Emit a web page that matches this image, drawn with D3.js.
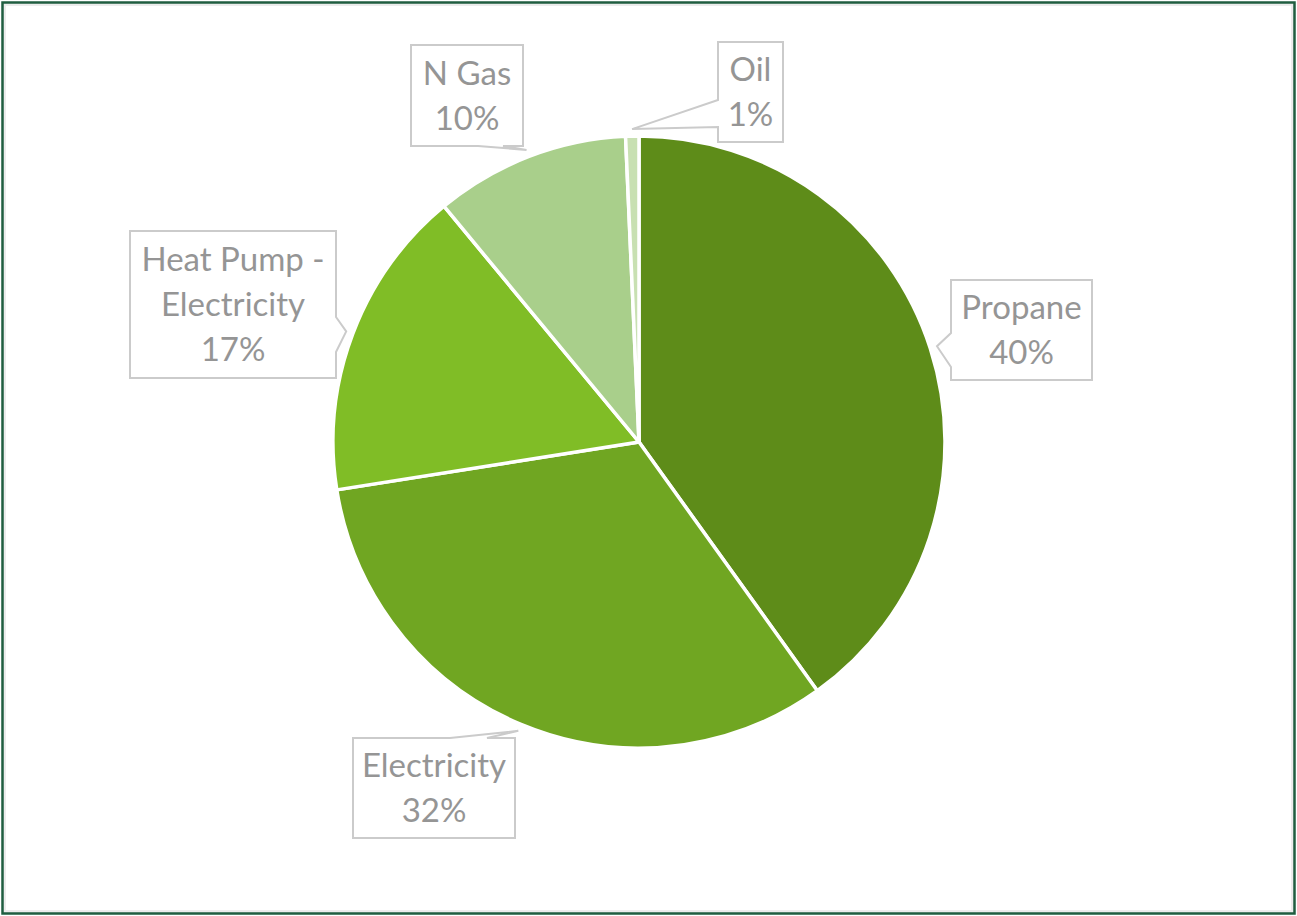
<!DOCTYPE html>
<html>
<head>
<meta charset="utf-8">
<script src="https://cdn.jsdelivr.net/npm/d3@7"></script>
<style>
html,body{margin:0;padding:0;background:#fff;}
svg{display:block;}
</style>
</head>
<body>
<svg id="chart" width="1297" height="916"></svg>
<script>
// ---- data ----
const categories = ["Propane", "Electricity", "Heat Pump - Electricity", "N Gas", "Oil"];
const values = [40.1, 32.4, 16.5, 10.3, 0.7];
const labelLines = [["Propane"], ["Electricity"], ["Heat Pump -", "Electricity"], ["N Gas"], ["Oil"]];
const colors = ["#5e8c19", "#70a622", "#80bd26", "#a9cf8b", "#c8e0b2"];

// ---- label box layout (annotation geometry) ----
const boxes = [
  {x: 951, y: 280, w: 141, h: 100, side: "left", a: 333, b: 367},
  {x: 353, y: 738, w: 162, h: 100, side: "top", a: 450, b: 487},
  {x: 130, y: 231, w: 206, h: 147, side: "right", a: 317, b: 352},
  {x: 411, y: 45, w: 112, h: 101, side: "bottom", a: 478, b: 503},
  {x: 718, y: 42, w: 65, h: 100, side: "left", a: 100, b: 127}
];

const svg = d3.select("#chart");
const W = 1297, H = 916;

// frame
svg.append("rect").attr("x", 4.5).attr("y", 4.5).attr("width", W - 9).attr("height", H - 9)
  .attr("fill", "none").attr("stroke", "#ececec").attr("stroke-width", 3);
svg.append("rect").attr("x", 2.5).attr("y", 2.5).attr("width", W - 5).attr("height", H - 5)
  .attr("fill", "none").attr("stroke", "#1f5d40").attr("stroke-width", 2.5);

const cx = 639, cy = 442, R = 306;
const total = d3.sum(values);
const data = categories.map((c, i) => ({cat: c, value: values[i], i}));

const pie = d3.pie().value(d => d.value).sort(null);
const arcs = pie(data);
const arc = d3.arc().innerRadius(0).outerRadius(R);

const g = svg.append("g").attr("transform", `translate(${cx},${cy})`);
g.selectAll("path.slice").data(arcs).enter().append("path")
  .attr("class", "slice")
  .attr("d", arc)
  .attr("fill", d => colors[d.data.i])
  .attr("stroke", "#fff")
  .attr("stroke-width", 3.5)
  .attr("stroke-linejoin", "round");

// callouts
function calloutPath(b, tip) {
  const x0 = b.x, y0 = b.y, x1 = b.x + b.w, y1 = b.y + b.h;
  const p = d3.path();
  p.moveTo(x0, y0);
  if (b.side === "top") { p.lineTo(b.a, y0); p.lineTo(tip[0], tip[1]); p.lineTo(b.b, y0); }
  p.lineTo(x1, y0);
  if (b.side === "right") { p.lineTo(x1, b.a); p.lineTo(tip[0], tip[1]); p.lineTo(x1, b.b); }
  p.lineTo(x1, y1);
  if (b.side === "bottom") { p.lineTo(b.b, y1); p.lineTo(tip[0], tip[1]); p.lineTo(b.a, y1); }
  p.lineTo(x0, y1);
  if (b.side === "left") { p.lineTo(x0, b.b); p.lineTo(tip[0], tip[1]); p.lineTo(x0, b.a); }
  p.closePath();
  return p.toString();
}

const tipArc = d3.arc().innerRadius(R + 7).outerRadius(R + 7);
const lg = svg.append("g");
arcs.forEach((d, k) => {
  const b = boxes[d.data.i];
  const c = tipArc.centroid(d);
  const tip = [cx + c[0], cy + c[1]];
  lg.append("path").attr("d", calloutPath(b, tip))
    .attr("fill", "#fff").attr("stroke", "#cbcbcb").attr("stroke-width", 2)
    .attr("stroke-linejoin", "miter");
  const lines = labelLines[d.data.i].concat([Math.round(d.data.value / total * 100) + "%"]);
  const lh = 45;
  const midY = b.y + b.h / 2;
  const startY = midY - (lines.length - 1) * lh / 2;
  const t = lg.append("text")
    .attr("text-anchor", "middle")
    .attr("font-family", "Lato, 'Open Sans', sans-serif")
    .attr("font-size", 33)
    .attr("fill", "#959595");
  lines.forEach((ln, j) => {
    t.append("tspan").attr("x", b.x + b.w / 2).attr("y", startY + j * lh)
      .attr("dy", "0.36em").text(ln);
  });
});
</script>
</body>
</html>
